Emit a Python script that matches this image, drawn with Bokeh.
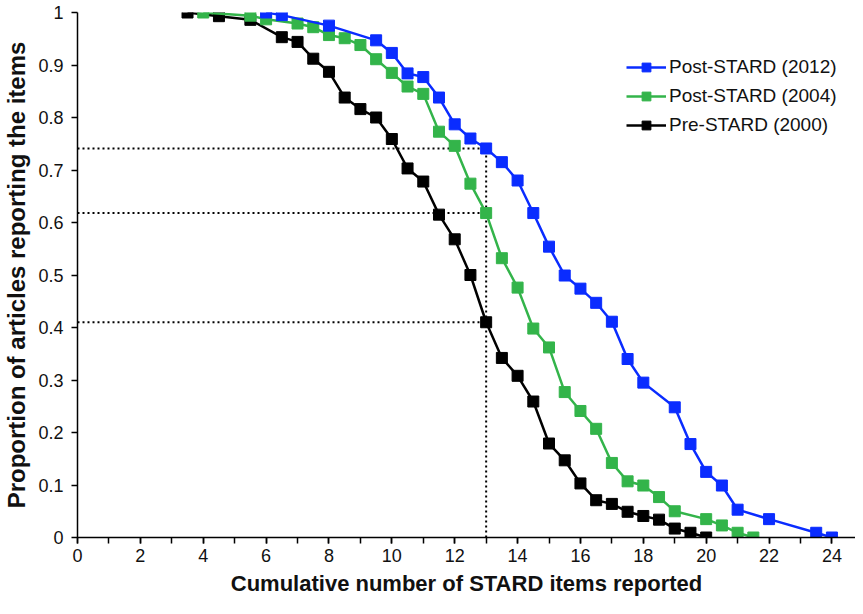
from bokeh.plotting import figure
from bokeh.models import FixedTicker, Range1d, Legend, LegendItem
from bokeh.embed import file_html
from bokeh.resources import INLINE

# Cumulative number of STARD items reported (x) vs proportion of articles (y)
x_pre2000 = [3.5, 4.5, 5.5, 6.5, 7, 7.5, 8, 8.5, 9, 9.5, 10, 10.5, 11, 11.5, 12, 12.5,
             13, 13.5, 14, 14.5, 15, 15.5, 16, 16.5, 17, 17.5, 18, 18.5, 19, 19.5, 20]
y_pre2000 = [1.0, 0.993, 0.986, 0.953, 0.944, 0.912, 0.887, 0.838, 0.816, 0.800, 0.759,
             0.703, 0.678, 0.615, 0.568, 0.500, 0.410, 0.342, 0.308, 0.259, 0.179, 0.147,
             0.103, 0.071, 0.064, 0.049, 0.041, 0.034, 0.017, 0.009, 0.0]

x_post2004 = [4, 5.5, 6, 7, 7.5, 8, 8.5, 9, 9.5, 10, 10.5, 11, 11.5, 12, 12.5, 13, 13.5,
              14, 14.5, 15, 15.5, 16, 16.5, 17, 17.5, 18, 18.5, 19, 20, 20.5, 21, 21.5]
y_post2004 = [1.0, 0.994, 0.987, 0.979, 0.972, 0.957, 0.951, 0.938, 0.911, 0.885, 0.859,
              0.845, 0.773, 0.746, 0.674, 0.618, 0.532, 0.476, 0.398, 0.362, 0.277, 0.241,
              0.207, 0.142, 0.107, 0.099, 0.077, 0.050, 0.035, 0.023, 0.009, 0.0]

x_post2012 = [6, 6.5, 8, 9.5, 10, 10.5, 11, 11.5, 12, 12.5, 13, 13.5, 14, 14.5, 15, 15.5,
              16, 16.5, 17, 17.5, 18, 19, 19.5, 20, 20.5, 21, 22, 23.5, 24]
y_post2012 = [1.0, 0.995, 0.975, 0.947, 0.923, 0.884, 0.877, 0.838, 0.787, 0.760, 0.741,
              0.715, 0.680, 0.618, 0.554, 0.499, 0.474, 0.447, 0.411, 0.340, 0.295, 0.248,
              0.178, 0.125, 0.099, 0.053, 0.035, 0.009, 0.0]

# Reference levels at 13 items
ref_x = 13
ref_levels = [0.741, 0.618, 0.410]

x_ticks = [0, 2, 4, 6, 8, 10, 12, 14, 16, 18, 20, 22, 24]
x_minor = list(range(0, 26))
y_ticks = [0, 0.1, 0.2, 0.3, 0.4, 0.5, 0.6, 0.7, 0.8, 0.9, 1.0]
y_tick_labels = ["0", "0.1", "0.2", "0.3", "0.4", "0.5", "0.6", "0.7", "0.8", "0.9", "1"]

FONT = "Liberation Sans"
BLUE = "#0a2cff"
GREEN = "#33b44a"
BLACK = "#000000"

p = figure(width=855, height=598, output_backend="svg", toolbar_location=None,
           x_range=Range1d(0, 24.75), y_range=Range1d(0, 1.0),
           min_border_left=77, min_border_top=12, min_border_right=0, min_border_bottom=60)
p.outline_line_color = None
p.xgrid.visible = False
p.ygrid.visible = False
p.background_fill_color = "white"
p.border_fill_color = "white"

# dotted reference lines
for lv in ref_levels:
    p.line([0, ref_x], [lv, lv], line_color="black", line_width=2, line_dash="2 3")
p.line([ref_x, ref_x], [0, max(ref_levels)], line_color="black", line_width=2, line_dash="2 3")

r_pre_l = p.line(x_pre2000, y_pre2000, line_color=BLACK, line_width=2.5)
r_pre_m = p.scatter(x_pre2000, y_pre2000, marker="square", size=11, fill_color=BLACK, line_color=BLACK)
r_04_l = p.line(x_post2004, y_post2004, line_color=GREEN, line_width=2.5)
r_04_m = p.scatter(x_post2004, y_post2004, marker="square", size=11, fill_color=GREEN, line_color=GREEN)
r_12_l = p.line(x_post2012, y_post2012, line_color=BLUE, line_width=2.5)
r_12_m = p.scatter(x_post2012, y_post2012, marker="square", size=11, fill_color=BLUE, line_color=BLUE)

legend = Legend(items=[
    LegendItem(label="Post-STARD (2012)", renderers=[r_12_l, r_12_m]),
    LegendItem(label="Post-STARD (2004)", renderers=[r_04_l, r_04_m]),
    LegendItem(label="Pre-STARD (2000)", renderers=[r_pre_l, r_pre_m]),
], location=(549, 401))
legend.label_text_font = FONT
legend.label_text_font_size = "19px"
legend.label_text_color = "#111111"
legend.border_line_color = None
legend.background_fill_alpha = 0
legend.glyph_width = 40
legend.glyph_height = 22
legend.label_standoff = 3
legend.spacing = 7
legend.padding = 4
p.add_layout(legend)

xa = p.xaxis[0]
xa.ticker = FixedTicker(ticks=x_ticks, minor_ticks=x_minor)
xa.axis_label = "Cumulative number of STARD items reported"
ya = p.yaxis[0]
ya.ticker = FixedTicker(ticks=y_ticks)
ya.major_label_overrides = {t: l for t, l in zip(y_ticks, y_tick_labels)}
ya.axis_label = "Proportion of articles reporting the items"

for ax in (xa, ya):
    ax.axis_line_color = "black"
    ax.axis_line_width = 1.5
    ax.major_tick_line_color = "black"
    ax.major_tick_line_width = 1.5
    ax.minor_tick_line_color = "black"
    ax.minor_tick_line_width = 1.5
    ax.major_tick_in = 0
    ax.major_tick_out = 6
    ax.minor_tick_in = 0
    ax.minor_tick_out = 6
    ax.major_label_text_font = FONT
    ax.major_label_text_font_size = "18px"
    ax.major_label_text_color = "#111111"
    ax.axis_label_text_font = FONT
    ax.axis_label_text_font_style = "bold"
    ax.axis_label_text_color = "#111111"
xa.axis_label_text_font_size = "22px"
ya.axis_label_text_font_size = "24px"
ya.minor_tick_out = 0
xa.major_label_standoff = 5
ya.major_label_standoff = 8
xa.axis_label_standoff = 6
ya.axis_label_standoff = 5

open("out.html", "w").write(file_html(p, INLINE))
